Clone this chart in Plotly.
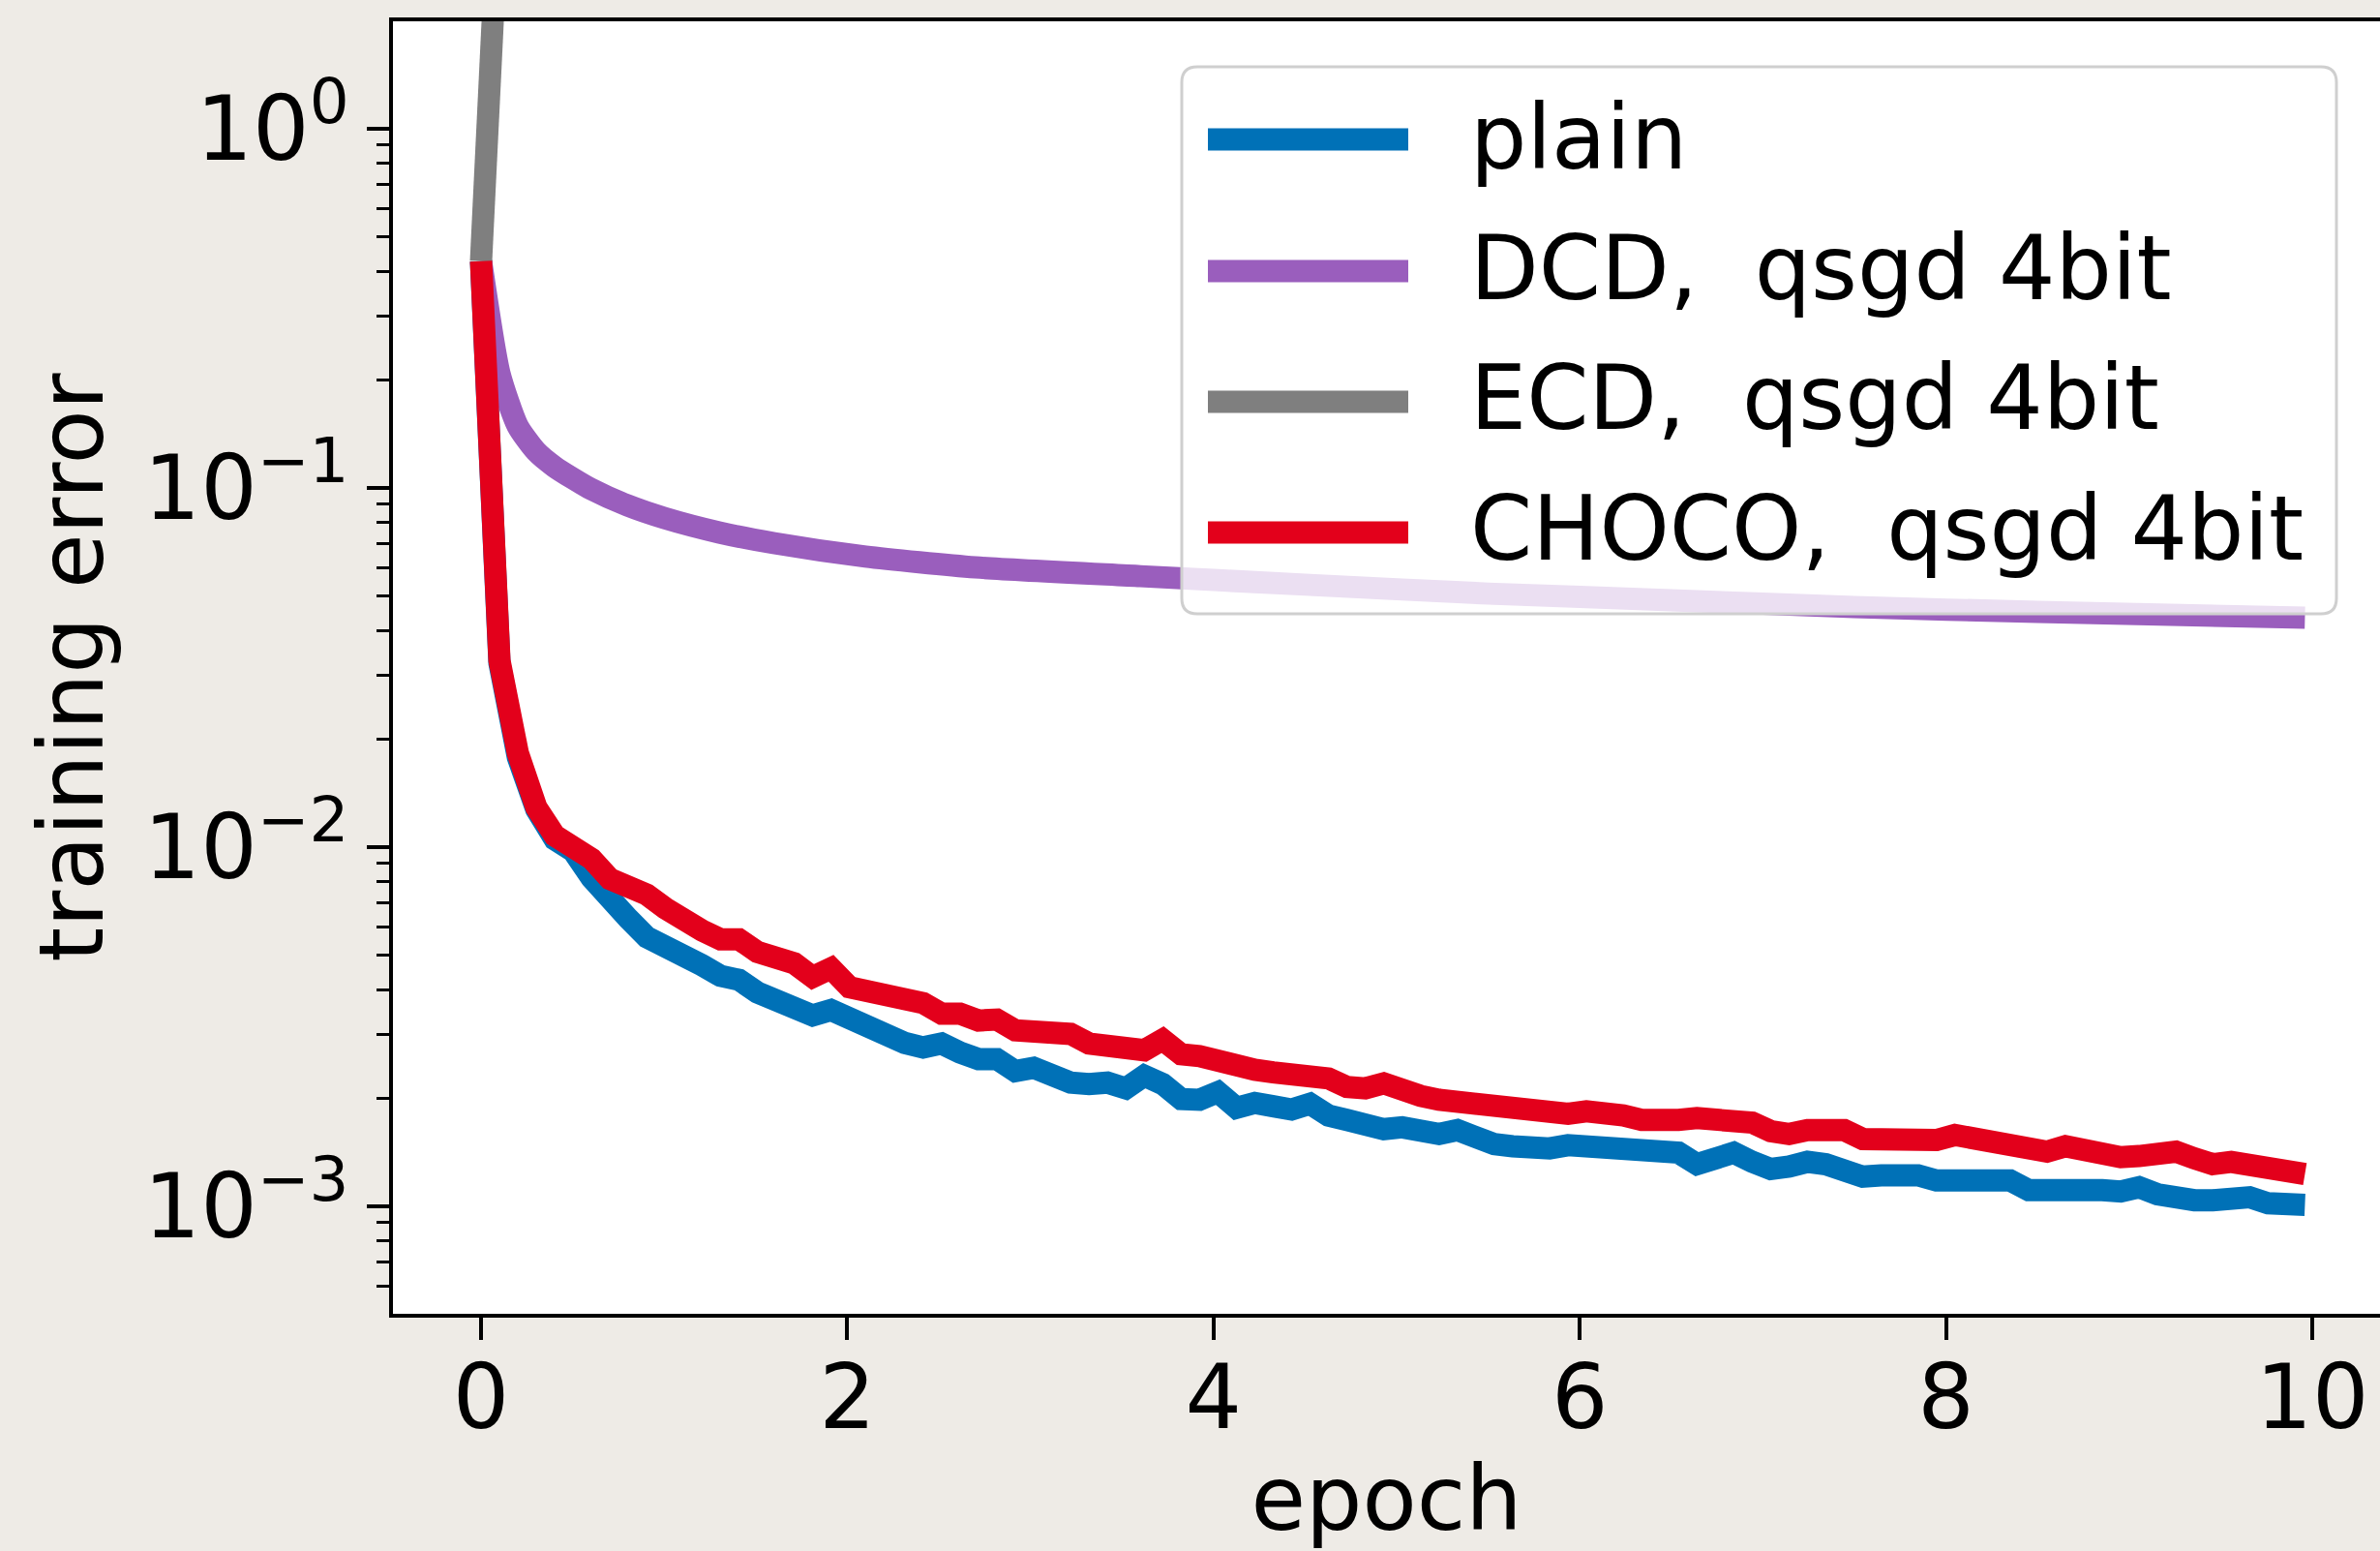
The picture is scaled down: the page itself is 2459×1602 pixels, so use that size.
import numpy as np
import plotly.graph_objects as go

# ---------------- data ----------------
epoch = np.linspace(0, 9.96, 100)

plain = [0.428, 0.0325, 0.0178, 0.01274, 0.01051, 0.00975, 0.00820, 0.00702, 0.00632, 0.00561,
         0.00534, 0.00511, 0.00469, 0.00438, 0.00427, 0.00394, 0.00377, 0.00352, 0.00340, 0.00352,
         0.00333, 0.00319, 0.00296, 0.00285, 0.00277, 0.00284, 0.00268, 0.00257, 0.00257, 0.00238,
         0.00243, 0.00231, 0.00221, 0.00219, 0.00221, 0.00213, 0.00231, 0.00219, 0.00199, 0.00198,
         0.00208, 0.00188, 0.00194, 0.00190, 0.00186, 0.00193, 0.00179, 0.00174, 0.00168, 0.00164,
         0.00166, 0.00162, 0.00159, 0.00163, 0.00154, 0.00149, 0.00147, 0.00145, 0.00145, 0.00148,
         0.00146, 0.00145, 0.00143, 0.00142, 0.00140, 0.00141, 0.00131, 0.00137, 0.00141, 0.00133,
         0.00127, 0.00129, 0.00133, 0.00131, 0.00125, 0.00121, 0.00122, 0.00124, 0.00122, 0.00118,
         0.00118, 0.00117, 0.00119, 0.00118, 0.00111, 0.00112, 0.00112, 0.00113, 0.00111, 0.00110,
         0.00113, 0.00108, 0.00105, 0.00104, 0.00104, 0.00105, 0.00106, 0.00102, 0.00100, 0.00101]

choco = [0.428, 0.0331, 0.01826, 0.01290, 0.01077, 0.01006, 0.00928, 0.00815, 0.00780, 0.00738,
         0.00676, 0.00620, 0.00586, 0.00554, 0.00554, 0.00511, 0.00496, 0.00475, 0.00435, 0.00460,
         0.00407, 0.00397, 0.00377, 0.00366, 0.00368, 0.00344, 0.00344, 0.00329, 0.00331, 0.00309,
         0.00308, 0.00302, 0.00302, 0.00284, 0.00280, 0.00272, 0.00272, 0.00291, 0.00265, 0.00262,
         0.00252, 0.00249, 0.00240, 0.00236, 0.00233, 0.00228, 0.00227, 0.00215, 0.00213, 0.00220,
         0.00209, 0.00203, 0.00198, 0.00195, 0.00197, 0.00194, 0.00190, 0.00186, 0.00184, 0.00181,
         0.00184, 0.00184, 0.00179, 0.00174, 0.00177, 0.00174, 0.00176, 0.00176, 0.00173, 0.00171,
         0.00162, 0.00159, 0.00163, 0.00163, 0.00163, 0.00154, 0.00153, 0.00156, 0.00155, 0.00153,
         0.00158, 0.00154, 0.00152, 0.00148, 0.00145, 0.00142, 0.00147, 0.00144, 0.00138, 0.00137,
         0.00138, 0.00142, 0.00142, 0.00136, 0.00131, 0.00133, 0.00131, 0.00130, 0.00129, 0.00123]

dcd_epoch = [0, 0.1, 0.2, 0.3, 0.4, 0.5, 0.6, 0.8, 1.0, 1.3, 1.6, 2.1, 2.7, 3.6, 4.5, 5.5,
             6.5, 7.5, 8.5, 9.96]
dcd = [0.428, 0.209, 0.1488, 0.1266, 0.1147, 0.1064, 0.0994, 0.0894, 0.0825, 0.0752, 0.0702,
       0.0644, 0.0601, 0.0568, 0.0538, 0.0508, 0.0487, 0.0466, 0.0452, 0.0435]

ecd_epoch = [0, 0.1, 0.2, 0.3]
ecd = [0.428, 3.2, 40.0, 600.0]

series_names = ["plain", "DCD,\u00a0 qsgd 4bit", "ECD,\u00a0 qsgd 4bit", "CHOCO,\u00a0 qsgd 4bit"]
series_colors = ["#0071b7", "#9a5ebd", "#7f7f7f", "#e3001b"]

y_tickvals = [1e-3, 1e-2, 1e-1, 1]
y_ticktext = ["10<sup>\u22123</sup>", "10<sup>\u22122</sup>", "10<sup>\u22121</sup>", "10<sup>0</sup>"]
x_tickvals = [0, 2, 4, 6, 8, 10]

# ---------------- layout geometry (pixels of the 2459x1602 page) ----------------
W, H = 2459, 1602
PL, PR, PT, PB = 406, 2459, 22, 1357       # plot area
FONT = "DejaVu Sans"
FS = 92
LW = 23


def px_x(p):
    return (p - PL) / (PR - PL)


def px_y(p):
    return (PB - p) / (PB - PT)


# legend frame and sample lines (matplotlib style legend)
LEG_L, LEG_R, LEG_T, LEG_B, LEG_RAD = 1221, 2414, 69, 634, 16
SAMPLE_X0, SAMPLE_X1 = 1248, 1455
SAMPLE_Y = [144, 280, 415, 550]

xs = [epoch, dcd_epoch, ecd_epoch, epoch]
ys = [plain, dcd, ecd, choco]

fig = go.Figure()
for i, (name, col) in enumerate(zip(series_names, series_colors)):
    fig.add_trace(go.Scatter(
        x=xs[i], y=ys[i], mode="lines", name=name, legendgroup=f"g{i}", showlegend=False,
        line=dict(color=col, width=LW, shape="spline" if i == 1 else "linear", smoothing=0.6),
    ))
# legend text entries (their symbols are drawn as thick lines below)
for i, name in enumerate(series_names):
    fig.add_trace(go.Scatter(
        x=[xs[i][0]], y=[ys[i][0]], mode="lines", name=name, legendgroup=f"g{i}",
        line=dict(color="rgba(0,0,0,0)", width=1), hoverinfo="skip",
    ))

minor_vals = [m * 10.0 ** k for k in range(-4, 1) for m in range(2, 10)]

# rounded legend frame
xl, xr, yt, yb = px_x(LEG_L), px_x(LEG_R), px_y(LEG_T), px_y(LEG_B)
rx = LEG_RAD / (PR - PL)
ry = LEG_RAD / (PB - PT)
frame_path = (f"M{xl+rx},{yt} L{xr-rx},{yt} Q{xr},{yt} {xr},{yt-ry} "
              f"L{xr},{yb+ry} Q{xr},{yb} {xr-rx},{yb} L{xl+rx},{yb} "
              f"Q{xl},{yb} {xl},{yb+ry} L{xl},{yt-ry} Q{xl},{yt} {xl+rx},{yt} Z")
shapes = [dict(type="path", path=frame_path, xref="paper", yref="paper", layer="above",
               fillcolor="rgba(255,255,255,0.8)", line=dict(color="#cfcfcf", width=3))]
for sy, col in zip(SAMPLE_Y, series_colors):
    shapes.append(dict(type="line", xref="paper", yref="paper", layer="above",
                       x0=px_x(SAMPLE_X0), x1=px_x(SAMPLE_X1), y0=px_y(sy), y1=px_y(sy),
                       line=dict(color=col, width=LW)))

fig.update_layout(
    width=W, height=H,
    margin=dict(l=PL, r=W - PR, t=PT, b=H - PB, autoexpand=False),
    paper_bgcolor="#eeebe6",
    plot_bgcolor="white",
    font=dict(family=FONT, size=FS, color="black"),
    showlegend=True,
    shapes=shapes,
    legend=dict(
        x=px_x(LEG_L), y=px_y(72), xanchor="left", yanchor="top",
        bgcolor="rgba(0,0,0,0)", borderwidth=0,
        font=dict(family=FONT, size=FS, color="black"),
        itemwidth=288, tracegroupgap=12, traceorder="grouped",
    ),
    xaxis=dict(
        range=[-0.481, 10.370], showgrid=False, zeroline=False,
        showline=True, linecolor="black", linewidth=4, mirror=True,
        ticks="outside", ticklen=23, tickwidth=3.5, tickcolor="black",
        tickmode="array", tickvals=x_tickvals, ticklabelstandoff=-19,
        tickfont=dict(family=FONT, size=FS, color="black"),
        title=dict(text="epoch", font=dict(family=FONT, size=FS, color="black"), standoff=29),
    ),
    yaxis=dict(
        type="log", range=[-3.2992, 0.2992], showgrid=False, zeroline=False,
        showline=True, linecolor="black", linewidth=4, mirror=False,
        ticks="outside", ticklen=23, tickwidth=3.5, tickcolor="black",
        tickmode="array", tickvals=y_tickvals, ticktext=y_ticktext,
        tickfont=dict(family=FONT, size=FS, color="black"),
        minor=dict(tickmode="array", tickvals=minor_vals, ticks="outside",
                   ticklen=13, tickwidth=2.5, tickcolor="black", showgrid=False),
        title=dict(text="training error", font=dict(family=FONT, size=FS, color="black"), standoff=12),
    ),
)

fig.write_html("out.html")
